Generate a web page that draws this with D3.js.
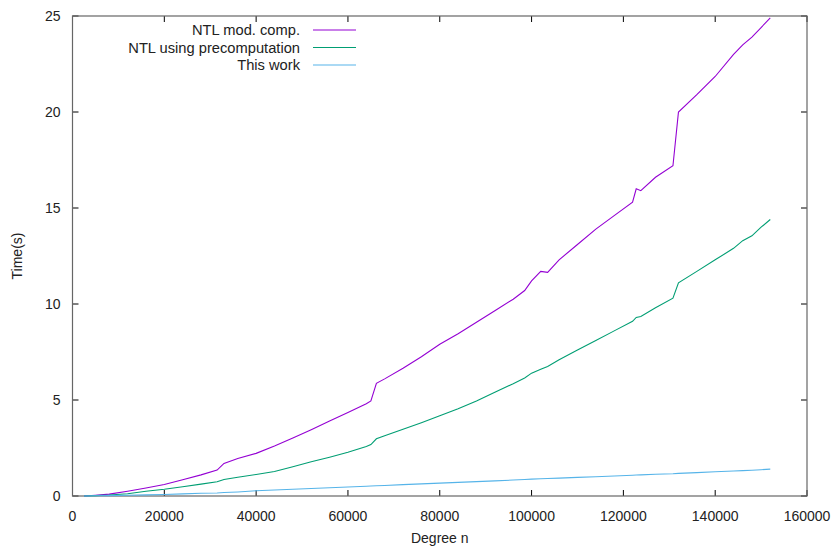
<!DOCTYPE html>
<html>
<head>
<meta charset="utf-8">
<script src="https://cdn.jsdelivr.net/npm/d3@7"></script>
<style>
  body { margin: 0; background: #fff; }
  text { font-family: "Liberation Sans", Arial, sans-serif; fill: #222; }
</style>
</head>
<body>
<div id="chart"></div>
<script>
// Degree n values (shared x for all series)
var degrees = [2500, 5000, 8000, 12000, 16000, 20000, 24000, 28000, 31500, 33000,
  36000, 40000, 44000, 48000, 52000, 56000, 60000, 64000, 65000, 66200,
  68000, 72000, 76000, 80000, 84000, 88000, 92000, 96000, 98500, 100000,
  102000, 103500, 106000, 110000, 114000, 118000, 122000, 122800, 123800, 127000,
  130800, 132000, 136000, 140000, 144000, 146000, 148000, 150000, 152000];

// Time (s) for each series
var ntlModComp = [0.0, 0.04, 0.1, 0.25, 0.42, 0.6, 0.85, 1.1, 1.35, 1.7,
  1.95, 2.22, 2.6, 3.02, 3.45, 3.9, 4.35, 4.8, 4.95, 5.87,
  6.1, 6.65, 7.25, 7.9, 8.45, 9.05, 9.65, 10.25, 10.7, 11.2,
  11.7, 11.65, 12.3, 13.1, 13.9, 14.6, 15.3, 16.0, 15.9, 16.6,
  17.2, 20.0, 20.9, 21.85, 23.0, 23.5, 23.9, 24.4, 24.9];

var ntlPrecomp = [0.0, 0.02, 0.05, 0.12, 0.25, 0.35, 0.48, 0.62, 0.74, 0.86,
  0.98, 1.12, 1.28, 1.52, 1.78, 2.02, 2.28, 2.58, 2.68, 2.98,
  3.14, 3.48, 3.82, 4.18, 4.55, 4.95, 5.4, 5.85, 6.15, 6.4,
  6.6, 6.75, 7.1, 7.6, 8.1, 8.6, 9.1, 9.3, 9.35, 9.8,
  10.3, 11.1, 11.7, 12.3, 12.9, 13.3, 13.55, 14.0, 14.4];

var thisWork = [0.0, 0.01, 0.02, 0.04, 0.06, 0.08, 0.11, 0.14, 0.16, 0.18,
  0.21, 0.27, 0.31, 0.35, 0.39, 0.43, 0.47, 0.51, 0.52, 0.53,
  0.55, 0.59, 0.63, 0.67, 0.71, 0.75, 0.79, 0.83, 0.86, 0.88,
  0.9, 0.91, 0.93, 0.97, 1.0, 1.04, 1.08, 1.09, 1.1, 1.13,
  1.16, 1.18, 1.22, 1.26, 1.3, 1.32, 1.34, 1.37, 1.4];

var seriesNames = ["NTL mod. comp.", "NTL using precomputation", "This work"];
var seriesColors = ["#9400d3", "#009e73", "#56b4e9"];
var xTicks = [0, 20000, 40000, 60000, 80000, 100000, 120000, 140000, 160000];
var yTicks = [0, 5, 10, 15, 20, 25];

var width = 833, height = 546;
var margin = { left: 72.5, right: 26, top: 16, bottom: 50 };

var svg = d3.select("#chart").append("svg")
  .attr("width", width)
  .attr("height", height);

var x = d3.scaleLinear().domain([0, 160000]).range([margin.left, width - margin.right]);
var y = d3.scaleLinear().domain([0, 25]).range([height - margin.bottom, margin.top]);

// ticks (inward, mirrored)
var tickLen = 6;
var axisG = svg.append("g");
xTicks.forEach(function(t) {
  axisG.append("line").attr("x1", x(t)).attr("x2", x(t))
    .attr("y1", y(0)).attr("y2", y(0) - tickLen)
    .attr("stroke", "#000").attr("stroke-width", 1);
  axisG.append("line").attr("x1", x(t)).attr("x2", x(t))
    .attr("y1", y(25)).attr("y2", y(25) + tickLen)
    .attr("stroke", "#000").attr("stroke-width", 1);
  axisG.append("text").attr("x", x(t)).attr("y", y(0) + 25)
    .attr("text-anchor", "middle").style("font-size", "14px").text(t);
});
yTicks.forEach(function(t) {
  axisG.append("line").attr("x1", x(0)).attr("x2", x(0) + tickLen)
    .attr("y1", y(t)).attr("y2", y(t))
    .attr("stroke", "#000").attr("stroke-width", 1);
  axisG.append("line").attr("x1", x(160000)).attr("x2", x(160000) - tickLen)
    .attr("y1", y(t)).attr("y2", y(t))
    .attr("stroke", "#000").attr("stroke-width", 1);
  axisG.append("text").attr("x", x(0) - 12).attr("y", y(t) + 5)
    .attr("text-anchor", "end").style("font-size", "14px").text(t);
});

// border
svg.append("rect")
  .attr("x", x(0)).attr("y", y(25))
  .attr("width", x(160000) - x(0)).attr("height", y(0) - y(25))
  .attr("fill", "none").attr("stroke", "#666").attr("stroke-width", 1.2);

// lines
var allSeries = [ntlModComp, ntlPrecomp, thisWork];
var line = d3.line()
  .x(function(d, i) { return x(degrees[i]); })
  .y(function(d) { return y(d); });

allSeries.forEach(function(vals, k) {
  svg.append("path")
    .datum(vals)
    .attr("d", line)
    .attr("fill", "none")
    .attr("stroke", seriesColors[k])
    .attr("stroke-width", 1.1);
});

// legend
var legend = svg.append("g");
seriesNames.forEach(function(name, k) {
  var ly = 30 + k * 17.5;
  legend.append("text").attr("x", 300).attr("y", ly + 5)
    .attr("text-anchor", "end").style("font-size", "14.7px").text(name);
  legend.append("line").attr("x1", 313).attr("x2", 356)
    .attr("y1", ly).attr("y2", ly)
    .attr("stroke", seriesColors[k]).attr("stroke-width", 1.2);
});

// axis titles
svg.append("text")
  .attr("x", (x(0) + x(160000)) / 2).attr("y", 543)
  .attr("text-anchor", "middle").style("font-size", "14px").text("Degree n");
svg.append("text")
  .attr("transform", "translate(22," + ((y(0) + y(25)) / 2) + ") rotate(-90)")
  .attr("text-anchor", "middle").style("font-size", "14px").text("Time(s)");
</script>
</body>
</html>
